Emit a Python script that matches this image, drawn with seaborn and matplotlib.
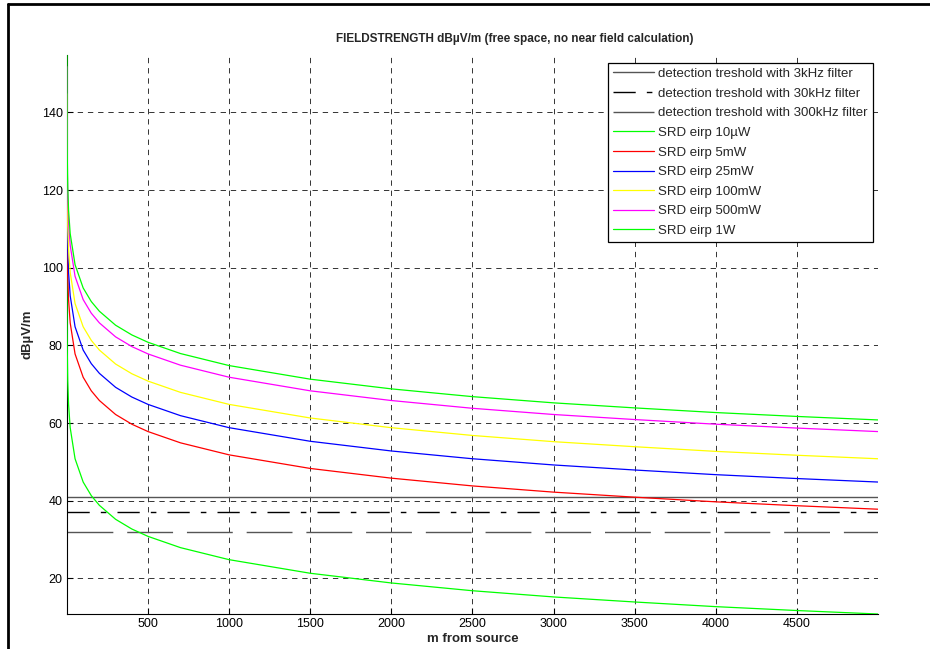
#!/usr/bin/env python3

import matplotlib
matplotlib.use("Agg")
import matplotlib.pyplot as plt
from matplotlib.lines import Line2D
import seaborn as sns

# Distance from source (m)
distance = [0.1, 0.2, 0.5, 1, 2, 5, 10, 20, 50, 100, 150, 200, 300, 400, 500,
            700, 1000, 1500, 2000, 2500, 3000, 3500, 4000, 4500, 5000]

# Field strength per eirp (dBuV/m)
srd_10uw = [104.8, 98.8, 90.8, 84.8, 78.8, 70.8, 64.8, 58.8, 50.8, 44.8, 41.3, 38.8, 35.2,
            32.7, 30.8, 27.9, 24.8, 21.3, 18.8, 16.8, 15.2, 13.9, 12.7, 11.7, 10.8]
srd_5mw = [131.8, 125.8, 117.8, 111.8, 105.8, 97.8, 91.8, 85.8, 77.8, 71.8, 68.3, 65.8, 62.2,
           59.7, 57.8, 54.9, 51.8, 48.3, 45.8, 43.8, 42.2, 40.9, 39.7, 38.7, 37.8]
srd_25mw = [138.8, 132.8, 124.8, 118.8, 112.8, 104.8, 98.8, 92.8, 84.8, 78.8, 75.3, 72.8, 69.2,
            66.7, 64.8, 61.9, 58.8, 55.3, 52.8, 50.8, 49.2, 47.9, 46.7, 45.7, 44.8]
srd_100mw = [144.8, 138.8, 130.8, 124.8, 118.8, 110.8, 104.8, 98.8, 90.8, 84.8, 81.3, 78.8, 75.2,
             72.7, 70.8, 67.9, 64.8, 61.3, 58.8, 56.8, 55.2, 53.9, 52.7, 51.7, 50.8]
srd_500mw = [151.8, 145.8, 137.8, 131.8, 125.8, 117.8, 111.8, 105.8, 97.8, 91.8, 88.3, 85.8, 82.2,
             79.7, 77.8, 74.9, 71.8, 68.3, 65.8, 63.8, 62.2, 60.9, 59.7, 58.7, 57.8]
srd_1w = [154.8, 148.8, 140.8, 134.8, 128.8, 120.8, 114.8, 108.8, 100.8, 94.8, 91.3, 88.8, 85.2,
          82.7, 80.8, 77.9, 74.8, 71.3, 68.8, 66.8, 65.2, 63.9, 62.7, 61.7, 60.8]

curves = [
    ("SRD eirp 10\u00b5W", srd_10uw, "#00ff00"),
    ("SRD eirp 5mW", srd_5mw, "#ff0000"),
    ("SRD eirp 25mW", srd_25mw, "#0000ff"),
    ("SRD eirp 100mW", srd_100mw, "#ffff00"),
    ("SRD eirp 500mW", srd_500mw, "#ff00ff"),
    ("SRD eirp 1W", srd_1w, "#00ff00"),
]

# Detection thresholds (dBuV/m)
threshold_labels = ["detection treshold with 3kHz filter",
                    "detection treshold with 30kHz filter",
                    "detection treshold with 300kHz filter"]
threshold_values = [41, 37, 32]

sns.set_style("white")
plt.rcParams['font.family'] = ['Liberation Sans', 'DejaVu Sans']

fig = plt.figure(figsize=(9.3, 6.49), dpi=100)
ax = fig.add_axes([0.072, 0.0539, 0.872, 0.8613])

# Threshold lines
ax.axhline(threshold_values[0], color='#555555', lw=1.0, ls='-', label=threshold_labels[0])
ax.axhline(threshold_values[1], color='black', lw=1.0, ls=(0, (16, 8, 4, 8)),
           label=threshold_labels[1])
ax.axhline(threshold_values[2], color='#555555', lw=1.0, ls=(0, (33, 10)),
           label=threshold_labels[2])

for label, vals, col in curves:
    sns.lineplot(x=distance, y=vals, color=col, lw=0.9, label=label, ax=ax, zorder=3)

ax.set_xlim(min(distance), max(distance))
ax.set_ylim(min(srd_10uw), max(srd_1w))
ax.set_xticks([500, 1000, 1500, 2000, 2500, 3000, 3500, 4000, 4500])
ax.set_yticks([20, 40, 60, 80, 100, 120, 140])
ax.tick_params(direction='in', length=4.5, width=0.8, labelsize=9, colors='black',
               left=True, bottom=True, pad=3)
ax.grid(True, color='#333333', ls=(0, (5.5, 5)), lw=0.7)

for side in ['top', 'right']:
    ax.spines[side].set_visible(False)
for side in ['left', 'bottom']:
    ax.spines[side].set_color('black')
    ax.spines[side].set_linewidth(0.8)

ax.set_xlabel('m from source', fontsize=9.5, fontweight='bold', labelpad=2)
ax.set_ylabel('dB\u00b5V/m', fontsize=9.5, fontweight='bold', labelpad=6)
fig.text(515 / 930, 1 - 39 / 649,
         'FIELDSTRENGTH dB\u00b5V/m (free space, no near field calculation)',
         ha='center', va='center', fontsize=8.5, fontweight='bold')

leg = ax.legend(loc='upper right', bbox_to_anchor=(873 / 930, 1 - 62.5 / 649),
                bbox_transform=fig.transFigure, fontsize=9.5, frameon=True,
                fancybox=False, framealpha=1, edgecolor='black', borderpad=0.4,
                labelspacing=0.56, handlelength=3.1, handletextpad=0.3,
                borderaxespad=0)
leg.get_frame().set_linewidth(0.9)
leg.set_zorder(5)

# Outer frame of the original export (left and top edges only visible)
fig.add_artist(Line2D([8 / 930, 8 / 930], [0, 1 - 4 / 649], color='black', lw=2,
                      transform=fig.transFigure))
fig.add_artist(Line2D([8 / 930, 1], [1 - 4 / 649, 1 - 4 / 649], color='black', lw=2,
                      transform=fig.transFigure))

plt.savefig("out.png", dpi=100)
plt.close()
